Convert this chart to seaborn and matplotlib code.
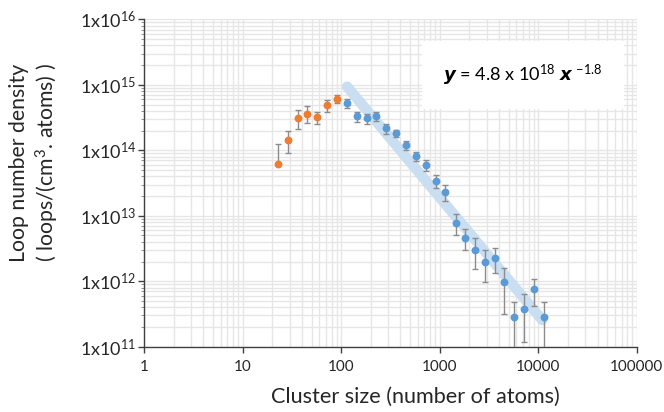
import numpy as np
import pandas as pd
import matplotlib
matplotlib.use("Agg")
import matplotlib.pyplot as plt
import seaborn as sns
from matplotlib.ticker import LogLocator, FixedLocator, NullFormatter

# ---- data ----
orange_x = [23.1, 29.0, 36.6, 45.5, 57.5, 72.2, 90.4]
orange_y = [6.1e13, 1.45e14, 3.11e14, 3.62e14, 3.19e14, 4.86e14, 6.14e14]
orange_err_low = [0.0, 5.4e13, 1.0e14, 1.0e14, 0.65e14, 1.0e14, 0.95e14]
orange_err_high = [6.3e13, 5.4e13, 1.0e14, 1.1e14, 0.65e14, 1.0e14, 0.95e14]

blue_x = [113.5, 143.4, 181, 227, 285, 360, 452, 571, 722, 912, 1145, 1448,
          1813, 2290, 2875, 3608, 4520, 5713, 7173, 9063, 11370]
blue_y = [5.27e14, 3.30e14, 3.08e14, 3.30e14, 2.17e14, 1.82e14, 1.19e14,
          8.18e13, 5.90e13, 3.40e13, 2.31e13, 7.87e12, 4.63e12, 3.03e12,
          1.99e12, 2.26e12, 9.64e11, 2.85e11, 3.77e11, 7.53e11, 2.85e11]
blue_err = [0.8e14, 0.6e14, 0.54e14, 0.48e14, 0.38e14, 0.22e14, 0.18e14,
            1.4e13, 1.15e13, 0.77e13, 0.6e13, 2.7e12, 1.6e12, 1.5e12,
            1.0e12, 0.93e12, 0.65e12, 2.0e11, 2.6e11, 3.4e11, 2.0e11]

fit_coef = 4.8e18
fit_exp = -1.8
fit_range = [115, 11000]

x_ticks = [1, 10, 100, 1000, 10000, 100000]
x_tick_labels = ["1", "10", "100", "1000", "10000", "100000"]
y_ticks = [1e11, 1e12, 1e13, 1e14, 1e15, 1e16]
y_tick_labels = [r"1x10$^{11}$", r"1x10$^{12}$", r"1x10$^{13}$",
                 r"1x10$^{14}$", r"1x10$^{15}$", r"1x10$^{16}$"]

sns.set_theme(style="white")
plt.rcParams["font.family"] = ["Lato", "DejaVu Sans"]
plt.rcParams["mathtext.fontset"] = "custom"
plt.rcParams["mathtext.rm"] = "Lato"
plt.rcParams["mathtext.it"] = "Lato:italic"
plt.rcParams["mathtext.bf"] = "Lato:bold"

orange = "#ED7D31"
blue = "#5B9BD5"
txt = "#262626"

fig = plt.figure(figsize=(6.64, 4.12), dpi=100)
ax = fig.add_axes([0.217, 0.1585, 0.742, 0.7945])
ax.set_xscale("log")
ax.set_yscale("log")
ax.set_xlim(1, 100000)
ax.set_ylim(1e11, 1e16)

# grid
ax.xaxis.set_minor_locator(LogLocator(base=10, subs=np.arange(2, 10)))
ax.yaxis.set_minor_locator(LogLocator(base=10, subs=np.arange(2, 10)))
ax.grid(True, which="both", color="#e6e6e6", linewidth=1.0)
ax.set_axisbelow(True)

# fit line
fx = np.array(fit_range, dtype=float)
fit_df = pd.DataFrame({"x": fx, "y": fit_coef * fx ** fit_exp})
sns.lineplot(data=fit_df, x="x", y="y", ax=ax, color="#c9def1",
             linewidth=7.5, solid_capstyle="round", zorder=2)

# error bars
ax.errorbar(orange_x, orange_y, yerr=[orange_err_low, orange_err_high], fmt="none",
            ecolor="#8c8c8c", elinewidth=1, capsize=2.5, capthick=1, zorder=3)
ax.errorbar(blue_x, blue_y, yerr=blue_err, fmt="none", ecolor="#8c8c8c",
            elinewidth=1, capsize=2.5, capthick=1, zorder=3)

df_o = pd.DataFrame({"x": orange_x, "y": orange_y})
df_b = pd.DataFrame({"x": blue_x, "y": blue_y})
sns.scatterplot(data=df_o, x="x", y="y", ax=ax, color=orange, s=32,
                edgecolor=orange, linewidth=0, zorder=4)
sns.scatterplot(data=df_b, x="x", y="y", ax=ax, color=blue, s=32,
                edgecolor=blue, linewidth=0, zorder=4)

ax.set_xlim(1, 100000)
ax.set_ylim(1e11, 1e16)
ax.set_xlabel("")
ax.set_ylabel("")

ax.xaxis.set_major_locator(FixedLocator(x_ticks))
ax.set_xticklabels(x_tick_labels)
ax.yaxis.set_major_locator(FixedLocator(y_ticks))
ax.set_yticklabels(y_tick_labels)
ax.xaxis.set_minor_formatter(NullFormatter())
ax.yaxis.set_minor_formatter(NullFormatter())

for s in ["top", "right"]:
    ax.spines[s].set_visible(False)
for s in ["left", "bottom"]:
    ax.spines[s].set_color("#404040")
    ax.spines[s].set_linewidth(1.0)

ax.tick_params(axis="x", which="major", direction="out", length=4.5, width=1,
               color="#404040", labelsize=11, labelcolor=txt, pad=5, bottom=True)
ax.tick_params(axis="x", which="minor", length=0)
ax.tick_params(axis="y", which="major", direction="out", length=4.5, width=1,
               color="#404040", labelsize=13, labelcolor=txt, pad=1, left=True)
ax.tick_params(axis="y", which="minor", direction="out", length=2.5, width=0.6,
               color="#808080", left=True)

fig.text(415 / 664, 1 - 397 / 412, "Cluster size (number of atoms)", fontsize=15.6,
         color=txt, ha="center", va="center")
fig.text(35 / 664, 1 - 163 / 412, "Loop number density\n( loops/(cm$^{3}$. atoms) )",
         fontsize=15.3, color=txt, ha="center", va="center", rotation=90,
         linespacing=1.25, multialignment="center")

# equation box
ax.text(0.769, 0.83, r"$\boldsymbol{y}$ = 4.8 x 10$^{18}$ $\boldsymbol{x}$ $^{-1.8}$",
        transform=ax.transAxes, ha="center", va="center", fontsize=13.1,
        color="black",
        bbox=dict(boxstyle="square,pad=1.2", facecolor="white", edgecolor="none"),
        zorder=5)

fig.savefig("out.png", dpi=100)
